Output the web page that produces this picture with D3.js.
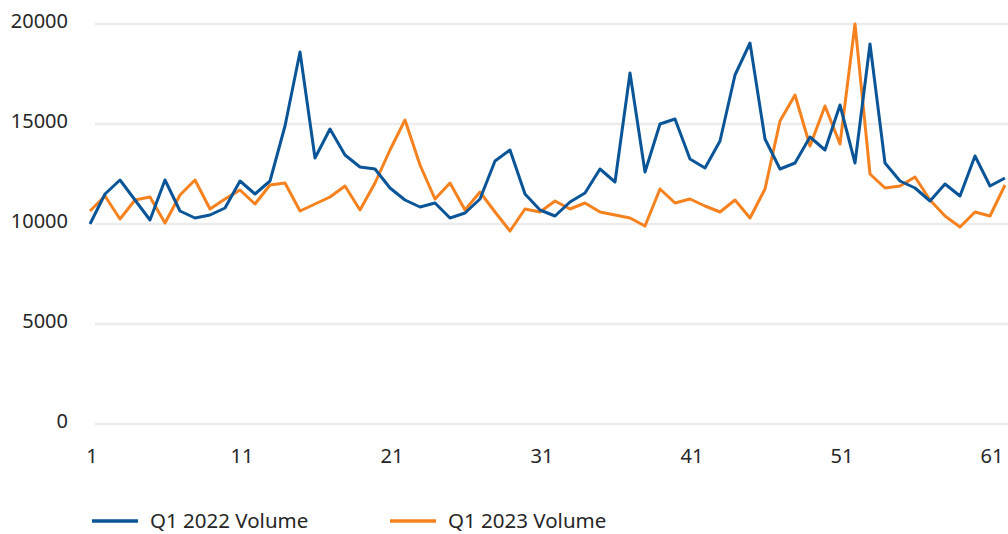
<!DOCTYPE html>
<html>
<head>
<meta charset="utf-8">
<script src="https://cdn.jsdelivr.net/npm/d3@7"></script>
<style>
    body { margin: 0; background: #fff; }
    svg { display: block; font-family: "Noto Sans", "Open Sans", sans-serif; }
    .tick-label { fill: #262626; font-size: 20px; }
    .legend-label { fill: #262626; font-size: 20.5px; }
</style>
</head>
<body>
<div id="chart"></div>
<script>
const seriesNames = ['Q1 2022 Volume', 'Q1 2023 Volume'];
const seriesColors = ['#0a5597', '#f5821f'];

const vol2022 = [
    10000, 11500, 12200, 11200, 10200, 12200, 10650, 10300, 10450, 10800,
    12150, 11500, 12150, 14900, 18600, 13300, 14750, 13450, 12850, 12750,
    11800, 11200, 10850, 11050, 10300, 10550, 11250, 13150, 13700, 11500,
    10700, 10400, 11100, 11550, 12750, 12100, 17550, 12600, 15000, 15250,
    13250, 12800, 14150, 17450, 19050, 14250, 12750, 13050, 14350, 13700,
    15950, 13050, 19000, 13050, 12150, 11800, 11150, 12000, 11400, 13400,
    11900, 12300
];

const vol2023 = [
    10650, 11400, 10250, 11200, 11350, 10050, 11450, 12200, 10750, 11250,
    11700, 11000, 11950, 12050, 10650, 11000, 11350, 11900, 10700, 12050,
    13700, 15200, 12950, 11250, 12050, 10700, 11600, 10600, 9650, 10750,
    10600, 11150, 10750, 11050, 10600, 10450, 10300, 9900, 11750, 11050,
    11250, 10900, 10600, 11200, 10300, 11750, 15150, 16450, 13900, 15900,
    14000, 20000, 12500, 11800, 11900, 12350, 11200, 10400, 9850, 10600,
    10400, 11950
];

const yTicks = [0, 5000, 10000, 15000, 20000];
const xTicks = [1, 11, 21, 31, 41, 51, 61];

const width = 1008;
const height = 534;

const svg = d3.select('#chart').append('svg')
    .attr('width', width)
    .attr('height', height);

const x = d3.scaleLinear().domain([1, 62]).range([90, 1005]);
const y = d3.scaleLinear().domain([0, 20000]).range([424, 24]);

// gridlines
svg.append('g')
    .selectAll('line')
    .data(yTicks)
    .join('line')
    .attr('x1', 95)
    .attr('x2', width)
    .attr('y1', d => y(d))
    .attr('y2', d => y(d))
    .attr('stroke', '#ececec')
    .attr('stroke-width', 2.5);

// y labels
svg.append('g')
    .selectAll('text')
    .data(yTicks)
    .join('text')
    .attr('class', 'tick-label')
    .attr('x', 68)
    .attr('y', d => y(d) - 3)
    .attr('dy', '0.35em')
    .attr('text-anchor', 'end')
    .text(d => d);

// x labels
svg.append('g')
    .selectAll('text')
    .data(xTicks)
    .join('text')
    .attr('class', 'tick-label')
    .attr('x', d => x(d) + 2)
    .attr('y', 456)
    .attr('dy', '0.35em')
    .attr('text-anchor', 'middle')
    .text(d => d);

const line = d3.line()
    .x((d, i) => x(i + 1))
    .y(d => y(d));

// orange first so the blue sits on top
[vol2023, vol2022].forEach((values, k) => {
    svg.append('path')
        .datum(values)
        .attr('fill', 'none')
        .attr('stroke', seriesColors[1 - k])
        .attr('stroke-width', 3)
        .attr('stroke-linejoin', 'round')
        .attr('d', line);
});

// legend
const legendX = [92, 390];
const legend = svg.append('g')
    .selectAll('g')
    .data(seriesNames)
    .join('g')
    .attr('transform', (d, i) => `translate(${legendX[i]},521)`);

legend.append('line')
    .attr('x1', 0)
    .attr('x2', 46)
    .attr('stroke', (d, i) => seriesColors[i])
    .attr('stroke-width', 3.5);

legend.append('text')
    .attr('class', 'legend-label')
    .attr('x', 58)
    .attr('dy', '0.35em')
    .text(d => d);
</script>
</body>
</html>
